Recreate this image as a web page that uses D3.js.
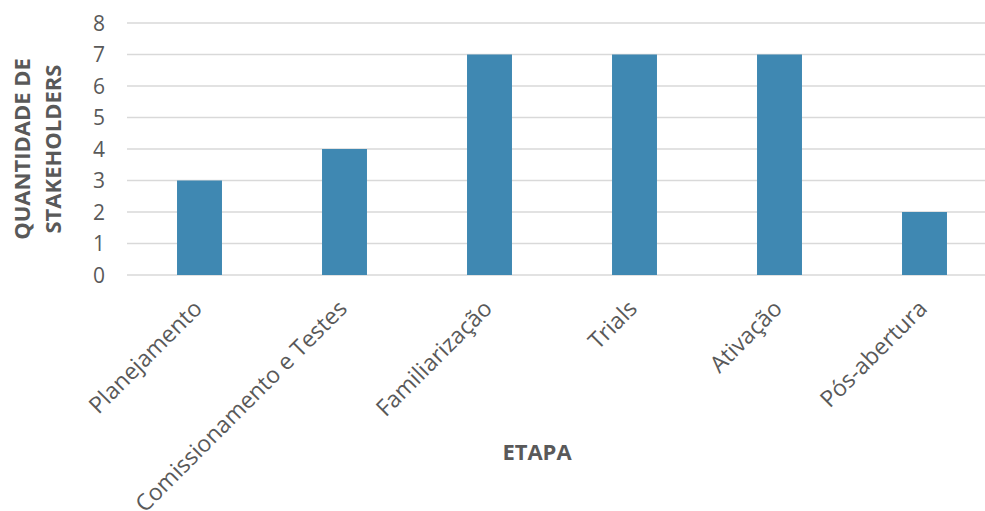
<!DOCTYPE html>
<html><head><meta charset="utf-8">
<script src="https://cdn.jsdelivr.net/npm/d3@7"></script>
<style>
html,body{margin:0;padding:0;background:#fff;}
svg{display:block;font-family:"Open Sans",sans-serif;}
</style></head>
<body>
<svg id="chart" width="985" height="511"></svg>
<script>
const categories = ["Planejamento","Comissionamento e Testes","Familiarização","Trials","Ativação","Pós-abertura"];
const values = [3,4,7,7,7,2];
const yTicks = [0,1,2,3,4,5,6,7,8];
const yTitle = ["QUANTIDADE DE","STAKEHOLDERS"];
const xTitle = "ETAPA";

(function(){
const svg = d3.select("#chart");
const mLeft = 127, mRight = 997, mTop = 23, mBottom = 275;
const txt = "#595959";

const x = d3.scaleBand().domain(categories).range([mLeft, mRight]).paddingInner(0.69).paddingOuter(0.345);
const y = d3.scaleLinear().domain([0, 8]).range([mBottom, mTop]);

// gridlines
svg.append("g").selectAll("line").data(yTicks).join("line")
  .attr("x1", mLeft).attr("x2", mRight)
  .attr("y1", d => y(d)).attr("y2", d => y(d))
  .attr("stroke", "#d9d9d9").attr("stroke-width", 1.5);

// y tick labels
svg.append("g").selectAll("text").data(yTicks).join("text")
  .attr("x", 105).attr("y", d => y(d)).attr("dy", "0.36em")
  .attr("text-anchor", "end").attr("fill", txt).attr("font-size", 21)
  .text(d => d);

// bars
svg.append("g").selectAll("rect").data(values).join("rect")
  .attr("x", (d, i) => x(categories[i]))
  .attr("width", x.bandwidth())
  .attr("y", d => y(d))
  .attr("height", d => y(0) - y(d))
  .attr("fill", "#3f88b2");

// x labels
svg.append("g").selectAll("text").data(categories).join("text")
  .attr("transform", d => `translate(${x(d) + x.bandwidth()/2 + 4},${mBottom + 35}) rotate(-45)`)
  .attr("text-anchor", "end")
  .attr("fill", txt).attr("font-size", 23)
  .text(d => d);

// y title (two lines)
svg.append("g").selectAll("text").data(yTitle).join("text")
  .attr("transform", (d, i) => `translate(${30 + i * 31},149) rotate(-90)`)
  .attr("text-anchor", "middle").attr("font-weight", "bold")
  .attr("fill", txt).attr("font-size", 22)
  .text(d => d);

// x title
svg.append("text").attr("x", 537).attr("y", 460)
  .attr("text-anchor", "middle").attr("font-weight", "bold")
  .attr("fill", txt).attr("font-size", 22)
  .text(xTitle);
})();
</script>
</body></html>
